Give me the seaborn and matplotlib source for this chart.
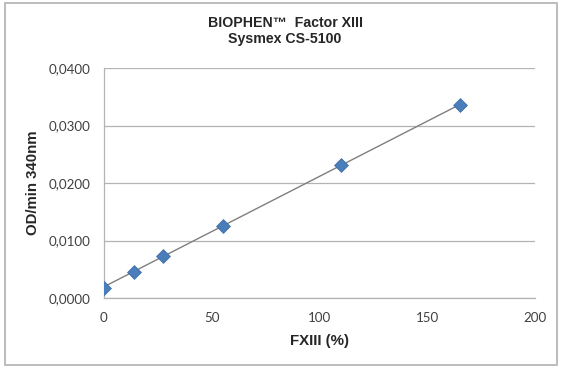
import numpy as np
import pandas as pd
import seaborn as sns
import matplotlib.pyplot as plt
from matplotlib.patches import Rectangle
from matplotlib.ticker import FuncFormatter

# FXIII calibration points
fxiii_pct = [0, 13.75, 27.5, 55, 110, 165]
od_per_min = [0.0018, 0.0046, 0.0073, 0.0126, 0.0232, 0.0335]

x_ticks = [0, 50, 100, 150, 200]
y_ticks = [0.0, 0.01, 0.02, 0.03, 0.04]

df = pd.DataFrame({"fxiii": fxiii_pct, "od": od_per_min})

sns.set_style("white")
plt.rcParams['font.family'] = ['Lato', 'DejaVu Sans']

fig = plt.figure(figsize=(5.61, 3.67), dpi=100)
ax = fig.add_axes([104 / 561, 1 - 298 / 367, 431 / 561, 230 / 367])

# linear trendline over the data range
sns.regplot(data=df, x="fxiii", y="od", scatter=False, ci=None, truncate=True,
            line_kws={"color": "#7f7f7f", "lw": 1.0}, ax=ax)
sns.scatterplot(data=df, x="fxiii", y="od", marker="D", s=50, color="#4a7ebb",
                edgecolor="#3a6aa5", linewidth=0.5, zorder=3, ax=ax)

ax.set_xlim(0, 200)
ax.set_ylim(0, 0.04)
ax.set_xticks(x_ticks)
ax.set_yticks(y_ticks)
ax.yaxis.set_major_formatter(FuncFormatter(lambda v, p: f"{v:.4f}".replace(".", ",")))
ax.grid(axis="y", color="#b3b3b3", lw=0.9)
ax.grid(axis="x", visible=False)
ax.set_axisbelow(True)
for s in ["top", "right"]:
    ax.spines[s].set_visible(False)
for s in ["left", "bottom"]:
    ax.spines[s].set_color("#b3b3b3")
    ax.spines[s].set_linewidth(0.9)
ax.tick_params(axis="both", direction="out", length=4, width=0.9, color="#b3b3b3",
               labelsize=9.6, labelcolor="#404040", pad=6)
ax.tick_params(axis="y", pad=6)

ax.set_xlabel("FXIII (%)", fontsize=10.8, fontweight="bold", family="Liberation Sans", labelpad=7)
ax.set_ylabel("OD/min 340nm", fontsize=10.8, fontweight="bold", family="Liberation Sans", labelpad=6)

fig.text(285 / 561, 1 - 23 / 367, "BIOPHEN\u2122  Factor XIII", ha="center", va="center",
         fontsize=10.2, fontweight="bold", family="Liberation Sans")
fig.text(285 / 561, 1 - 38.5 / 367, "Sysmex CS-5100", ha="center", va="center",
         fontsize=10.2, fontweight="bold", family="Liberation Sans")

# chart area border
fig.patches.append(Rectangle((5 / 561, 2 / 367), 552 / 561, 362 / 367, transform=fig.transFigure,
                             fill=False, edgecolor="#b0b0b0", lw=1.2))

fig.savefig("out.png", dpi=100)
